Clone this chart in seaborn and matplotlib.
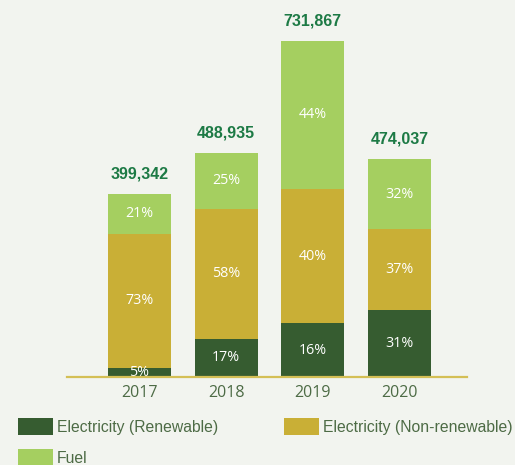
import matplotlib
matplotlib.use("Agg")
import matplotlib.pyplot as plt
from matplotlib.patches import Patch
import seaborn as sns
import pandas as pd
import numpy as np

# Energy consumption by source, per year
years = ["2017", "2018", "2019", "2020"]
totals = [399342, 488935, 731867, 474037]
pct_renewable = [5, 17, 16, 31]
pct_nonrenewable = [73, 58, 40, 37]
pct_fuel = [21, 25, 44, 32]
series_names = ["Electricity (Renewable)", "Electricity (Non-renewable)", "Fuel"]

C_REN = "#365c30"
C_NONREN = "#c9af36"
C_FUEL = "#a5cf60"
BG = "#f2f4ef"
TEXT_GREEN = "#4d6b45"
TOTAL_GREEN = "#1d7a45"
AXIS_GOLD = "#d4bf55"

sns.set_theme(style="white")
plt.rcParams["font.family"] = ["Open Sans", "DejaVu Sans"]

totals_a = np.array(totals, dtype=float)
ren = totals_a * np.array(pct_renewable) / 100
nonren = totals_a * np.array(pct_nonrenewable) / 100
df = pd.DataFrame({
    "year": years,
    "total": totals_a,
    "lower": ren + nonren,
    "ren": ren,
})

W, H = 515, 465
fig = plt.figure(figsize=(W / 100, H / 100), dpi=100, facecolor=BG)
ax = fig.add_axes([67 / W, (H - 377) / H, 399.7 / W, 377 / H])
ax.set_facecolor(BG)

bar_w = 63 / 86.67
# layered bars: full height (fuel on top), then both electricity parts, then renewable
for col, colr in [("total", C_FUEL), ("lower", C_NONREN), ("ren", C_REN)]:
    sns.barplot(data=df, x="year", y=col, color=colr, width=bar_w, saturation=1,
                errorbar=None, linewidth=0, ax=ax)

ax.set_xlim(-0.8365, 3.775)
ax.set_ylim(0, 821180)
ax.set_xlabel("")
ax.set_ylabel("")
ax.set_yticks([])
for s in ["top", "left", "right"]:
    ax.spines[s].set_visible(False)
ax.spines["bottom"].set_color(AXIS_GOLD)
ax.spines["bottom"].set_linewidth(1.6)
ax.spines["bottom"].set_zorder(5)
ax.tick_params(axis="x", length=0, pad=6, labelsize=11.5, labelcolor=TEXT_GREEN)

# segment percentage labels
for i in range(len(years)):
    segs = [(0, ren[i], pct_renewable[i]),
            (ren[i], ren[i] + nonren[i], pct_nonrenewable[i]),
            (ren[i] + nonren[i], totals_a[i], pct_fuel[i])]
    for lo, hi, p in segs:
        ax.text(i, (lo + hi) / 2, f"{p}%", ha="center", va="center",
                color="white", fontsize=10.3, family=["Open Sans", "DejaVu Sans"])
    ax.text(i, totals_a[i] + 20 * 2178, f"{totals[i]:,}", ha="center", va="center",
            color=TOTAL_GREEN, fontsize=11.5, fontweight="bold",
            family=["Liberation Sans", "DejaVu Sans"])

handles = [Patch(facecolor=C_REN, edgecolor="none", label=series_names[0]),
           Patch(facecolor=C_FUEL, edgecolor="none", label=series_names[2]),
           Patch(facecolor=C_NONREN, edgecolor="none", label=series_names[1])]
leg = fig.legend(handles=handles, ncol=2, loc="upper left",
                 bbox_to_anchor=(18 / W, 1 - 418 / H), frameon=False,
                 borderpad=0, borderaxespad=0,
                 prop={"family": ["Liberation Sans", "DejaVu Sans"], "size": 11.3},
                 handlelength=2.22, handleheight=1.33, handletextpad=0.25,
                 columnspacing=4.2, labelspacing=0.85)
for t in leg.get_texts():
    t.set_color(TEXT_GREEN)

fig.savefig("out.png", dpi=100, facecolor=BG)
